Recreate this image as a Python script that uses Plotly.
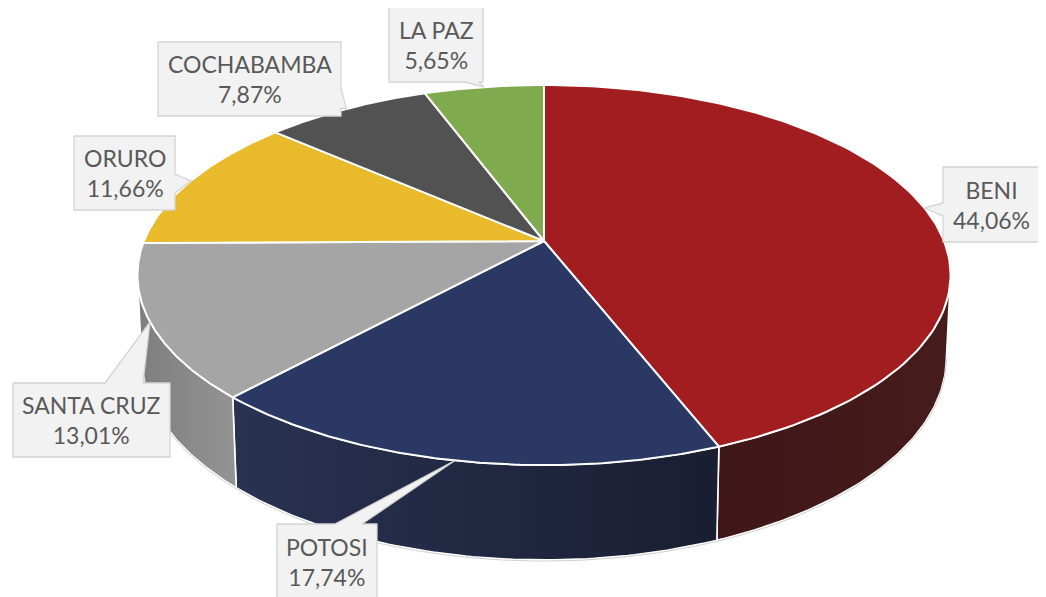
import numpy as np
import plotly.graph_objects as go

# ---- data (clockwise from 12 o'clock) ----
regions = ["BENI", "POTOSI", "SANTA CRUZ", "ORURO", "COCHABAMBA", "LA PAZ"]
percents = [44.06, 17.74, 13.01, 11.66, 7.87, 5.65]
top_colors = ["#A11D20", "#2B3864", "#A5A5A5", "#E9BA2B", "#525252", "#7FAA4D"]
side_colors = [("#3F1718", "#461B1C"), ("#2A3252", "#191E31"), ("#7E7E7E", "#949494"),
               ("#B08A20", "#B08A20"), ("#3A3A3A", "#3A3A3A"), ("#5E7F39", "#5E7F39")]

# ---- 3D pie projection (perspective) ----
W, H = 1046, 597
PAGE_MARGIN = 8  # default body margin of the html page
CX, CY, A, B, K, EPS, T = 544, 241, 400, 184, 0.179, 0.01, 81


def proj(theta_deg, z):
    th = np.radians(theta_deg)
    u, v = np.sin(th), np.cos(th)
    d = 1 + K * v + EPS * z
    return CX + A * u / d, CY - (B * v - T * z) / d


total = sum(percents)
bounds = np.concatenate([[0], np.cumsum(percents) / total * 360])
vis_lo = 90 + np.degrees(np.arcsin(K))
vis_hi = 270 - np.degrees(np.arcsin(K))

fig = go.Figure()

# side walls (only visible front part)
for i, name in enumerate(regions):
    a0, a1 = max(bounds[i], vis_lo), min(bounds[i + 1], vis_hi)
    if a1 <= a0:
        continue
    th = np.linspace(a0, a1, 80)
    tx, ty = proj(th, 0)
    bx, by = proj(th[::-1], 1)
    xs = np.concatenate([tx, bx, tx[:1]])
    ys = np.concatenate([ty, by, ty[:1]])
    c0, c1 = side_colors[i]
    fig.add_trace(go.Scatter(
        x=xs, y=ys, mode="lines", fill="toself",
        fillgradient=dict(type="horizontal", colorscale=[[0, c0], [1, c1]]),
        line=dict(color="white", width=1.6), hoverinfo="skip", showlegend=False))

# bottom outline faint
thb = np.linspace(vis_lo, vis_hi, 200)
bx, by = proj(thb, 1)
fig.add_trace(go.Scatter(x=bx, y=by + 1.2, mode="lines",
                         line=dict(color="#D0D0D0", width=1), hoverinfo="skip", showlegend=False))

# top faces
for i, name in enumerate(regions):
    th = np.linspace(bounds[i], bounds[i + 1], 120)
    tx, ty = proj(th, 0)
    xs = np.concatenate([[CX], tx, [CX]])
    ys = np.concatenate([[CY], ty, [CY]])
    fig.add_trace(go.Scatter(
        x=xs, y=ys, mode="lines", fill="toself", fillcolor=top_colors[i],
        line=dict(color="white", width=2), hoverinfo="skip", showlegend=False))

# ---- callout labels ----
# box (x0, y0, x1, y1), tail side, tail base (b0, b1)
label_boxes = {
    "BENI": ((943, 167, 1040, 242), "left", (203, 216)),
    "POTOSI": ((277, 524, 377, 600), "top", (335, 362)),
    "SANTA CRUZ": ((13, 383, 170, 457), "top", (105, 143)),
    "ORURO": ((74, 136, 175, 210), "right", (174, 193)),
    "COCHABAMBA": ((158, 42, 341, 116), "right", (88, 108)),
    "LA PAZ": ((389, 7, 483, 82), "bottom", (465, 479)),
}

annotations = []
for i, name in enumerate(regions):
    (x0, y0, x1, y1), side, (b0, b1) = label_boxes[name]
    mid = (bounds[i] + bounds[i + 1]) / 2
    tipx, tipy = proj(mid, 0)
    tipx, tipy = float(tipx), float(tipy)
    pts = [(x0, y0)]
    if side == "top":
        pts += [(b0, y0), (tipx, tipy), (b1, y0)]
    pts += [(x1, y0)]
    if side == "right":
        pts += [(x1, b0), (tipx, tipy), (x1, b1)]
    pts += [(x1, y1)]
    if side == "bottom":
        pts += [(b1, y1), (tipx, tipy), (b0, y1)]
    pts += [(x0, y1)]
    if side == "left":
        pts += [(x0, b1), (tipx, tipy), (x0, b0)]
    pts += [(x0, y0)]
    fig.add_trace(go.Scatter(
        x=[p[0] for p in pts], y=[p[1] for p in pts], mode="lines", fill="toself",
        fillcolor="#F2F2F2", line=dict(color="#D4D4D4", width=1.3),
        hoverinfo="skip", showlegend=False))
    txt = f"{name}<br>{percents[i]:.2f}%".replace(".", ",")
    annotations.append(dict(
        x=(x0 + x1) / 2, y=(y0 + y1) / 2, xref="x", yref="y", text=txt,
        showarrow=False, align="center",
        font=dict(family="Lato, 'Open Sans', sans-serif", size=23, color="#595959")))

fig.update_layout(
    width=W - PAGE_MARGIN, height=H - PAGE_MARGIN, margin=dict(l=0, r=0, t=0, b=0),
    paper_bgcolor="white", plot_bgcolor="white",
    xaxis=dict(range=[PAGE_MARGIN, W], visible=False, fixedrange=True),
    yaxis=dict(range=[H, PAGE_MARGIN], visible=False, fixedrange=True),
    annotations=annotations, showlegend=False)

fig.write_html("out.html")
